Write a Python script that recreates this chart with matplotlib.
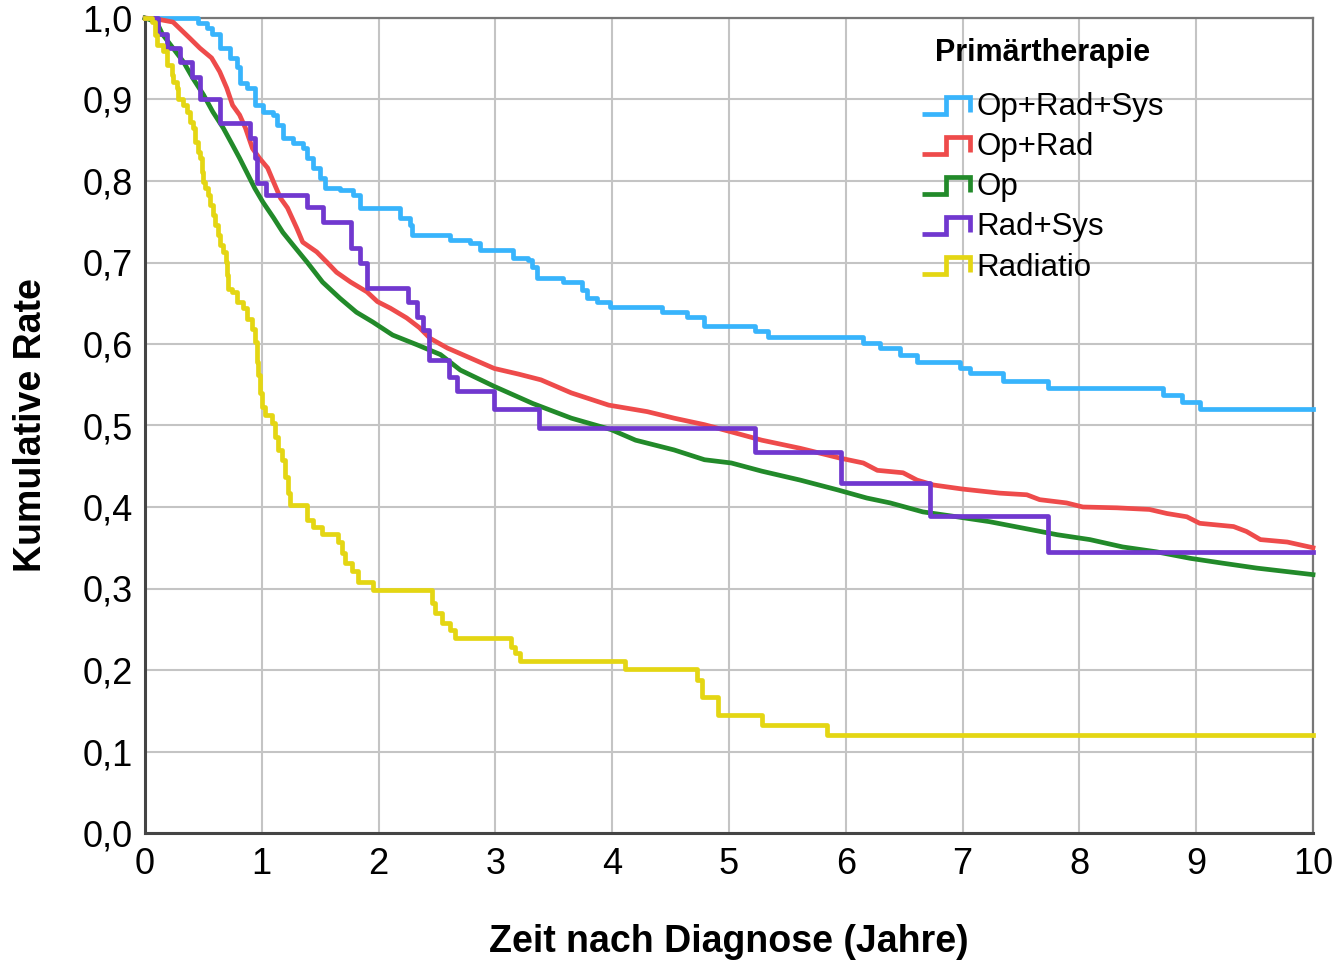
import matplotlib
matplotlib.use("Agg")
import matplotlib.pyplot as plt
from matplotlib.lines import Line2D
from matplotlib.legend_handler import HandlerLine2D
from matplotlib.ticker import FuncFormatter

plt.rcParams['font.family'] = ['Liberation Sans', 'DejaVu Sans']

# Kumulative Rate je Primaertherapie
t_ors = [0, 0.45, 0.53, 0.57, 0.64, 0.73, 0.79, 0.81, 0.87, 0.94, 1.01, 1.10, 1.13, 1.18, 1.27,
         1.35, 1.39, 1.44, 1.50, 1.54, 1.67, 1.78, 1.84, 2.18, 2.27, 2.29, 2.61, 2.78, 2.87, 3.15,
         3.28, 3.31, 3.36, 3.58, 3.74, 3.78, 3.87, 3.98, 4.43, 4.64, 4.79, 5.22, 5.33, 6.15, 6.29,
         6.46, 6.61, 6.98, 7.06, 7.35, 7.73, 8.72, 8.88, 9.03, 10.0]
s_ors = [1.0, 0.994, 0.988, 0.98, 0.963, 0.951, 0.94, 0.92, 0.914, 0.893, 0.885, 0.881, 0.869, 0.853, 0.847,
         0.84, 0.828, 0.816, 0.804, 0.791, 0.789, 0.783, 0.767, 0.755, 0.746, 0.734, 0.727, 0.724, 0.715, 0.705,
         0.703, 0.695, 0.681, 0.676, 0.666, 0.656, 0.652, 0.645, 0.639, 0.633, 0.622, 0.616, 0.609, 0.601, 0.595,
         0.587, 0.578, 0.571, 0.564, 0.555, 0.546, 0.537, 0.529, 0.52, 0.52]

t_or = [0, 0.13, 0.24, 0.385, 0.47, 0.57, 0.64, 0.70, 0.75, 0.81, 0.86, 0.92, 0.98, 1.05, 1.10,
        1.16, 1.22, 1.30, 1.35, 1.47, 1.56, 1.64, 1.76, 1.90, 1.99, 2.10, 2.24, 2.35, 2.44, 2.59,
        2.75, 2.99, 3.20, 3.39, 3.65, 3.97, 4.30, 4.53, 4.79, 5.05, 5.28, 5.61, 5.95, 6.15, 6.27,
        6.49, 6.61, 6.75, 7.00, 7.32, 7.55, 7.66, 7.89, 8.03, 8.32, 8.60, 8.75, 8.92, 9.03, 9.32,
        9.43, 9.55, 9.78, 10.0]
s_or = [1.0, 0.998, 0.995, 0.975, 0.963, 0.951, 0.934, 0.914, 0.893, 0.881, 0.865, 0.84, 0.828, 0.816, 0.799,
        0.779, 0.767, 0.742, 0.725, 0.713, 0.70, 0.688, 0.676, 0.664, 0.652, 0.644, 0.632, 0.62, 0.607, 0.595,
        0.585, 0.570, 0.563, 0.556, 0.540, 0.525, 0.517, 0.509, 0.501, 0.491, 0.482, 0.472, 0.460, 0.454, 0.445,
        0.442, 0.433, 0.427, 0.422, 0.417, 0.415, 0.409, 0.405, 0.400, 0.399, 0.397, 0.392, 0.388, 0.380, 0.376,
        0.370, 0.360, 0.357, 0.350]

t_op = [0, 0.10, 0.15, 0.24, 0.33, 0.41, 0.50, 0.58, 0.67, 0.75, 0.81, 0.87, 0.94, 1.01, 1.10,
        1.18, 1.27, 1.39, 1.52, 1.67, 1.81, 1.95, 2.12, 2.33, 2.53, 2.70, 2.99, 3.32, 3.65, 3.99,
        4.20, 4.53, 4.79, 5.02, 5.28, 5.61, 5.93, 6.18, 6.38, 6.66, 6.95, 7.23, 7.52, 7.81, 8.09,
        8.37, 8.66, 8.95, 9.23, 9.52, 10.0]
s_op = [1.0, 0.995, 0.98, 0.963, 0.946, 0.926, 0.906, 0.885, 0.865, 0.844, 0.828, 0.811, 0.791, 0.774, 0.755,
        0.737, 0.721, 0.70, 0.676, 0.656, 0.639, 0.627, 0.611, 0.599, 0.587, 0.568, 0.548, 0.527, 0.509, 0.495,
        0.482, 0.470, 0.458, 0.454, 0.444, 0.433, 0.421, 0.411, 0.405, 0.394, 0.388, 0.382, 0.374, 0.366, 0.360,
        0.351, 0.345, 0.337, 0.331, 0.325, 0.317]

t_rs = [0, 0.11, 0.19, 0.30, 0.40, 0.47, 0.64, 0.90, 0.94, 0.96, 1.04, 1.39, 1.52, 1.76, 1.84,
        1.90, 2.25, 2.33, 2.38, 2.43, 2.60, 2.67, 2.99, 3.37, 5.22, 5.96, 6.72, 7.73, 10.0]
s_rs = [1.0, 0.98, 0.963, 0.946, 0.928, 0.90, 0.871, 0.853, 0.828, 0.798, 0.783, 0.768, 0.75, 0.718, 0.70,
        0.669, 0.652, 0.633, 0.617, 0.58, 0.56, 0.542, 0.52, 0.497, 0.467, 0.43, 0.389, 0.345, 0.345]

t_rad = [0, 0.057, 0.086, 0.10, 0.157, 0.186, 0.228, 0.243, 0.271, 0.285, 0.328, 0.357, 0.385, 0.414, 0.428,
         0.457, 0.471, 0.485, 0.50, 0.514, 0.542, 0.557, 0.585, 0.599, 0.628, 0.642, 0.670, 0.693, 0.705, 0.713,
         0.742, 0.785, 0.842, 0.871, 0.913, 0.942, 0.956, 0.970, 0.985, 0.999, 1.027, 1.085, 1.113, 1.142, 1.170,
         1.199, 1.227, 1.241, 1.384, 1.441, 1.513, 1.655, 1.684, 1.712, 1.770, 1.826, 1.955, 2.46, 2.48, 2.54,
         2.61, 2.65, 3.13, 3.17, 3.21, 4.11, 4.73, 4.77, 4.91, 5.28, 5.84, 10.0]
s_rad = [1.0, 0.995, 0.979, 0.967, 0.959, 0.942, 0.930, 0.922, 0.914, 0.901, 0.893, 0.885, 0.873, 0.865, 0.848,
         0.836, 0.828, 0.811, 0.799, 0.791, 0.783, 0.771, 0.758, 0.746, 0.734, 0.721, 0.713, 0.701, 0.685, 0.668,
         0.664, 0.652, 0.644, 0.631, 0.619, 0.603, 0.578, 0.562, 0.540, 0.523, 0.513, 0.503, 0.486, 0.470, 0.458,
         0.437, 0.417, 0.402, 0.384, 0.376, 0.367, 0.357, 0.343, 0.331, 0.321, 0.308, 0.298, 0.282, 0.27, 0.258,
         0.249, 0.239, 0.228, 0.221, 0.211, 0.201, 0.188, 0.167, 0.145, 0.132, 0.12, 0.12]

labels = ['Op+Rad+Sys', 'Op+Rad', 'Op', 'Rad+Sys', 'Radiatio']
colors = ['#38b4fc', '#ee4b4b', '#228a2a', '#7138cf', '#e4d613']


class StepHandler(HandlerLine2D):
    def create_artists(self, legend, orig_handle, xdescent, ydescent, width, height, fontsize, trans):
        x0, y0 = -xdescent, -ydescent
        xm = x0 + 0.5 * width
        xs = [x0, xm, xm, x0 + width, x0 + width]
        lo, hi = y0 + 0.05 * height, y0 + 0.85 * height
        ys = [lo, lo, hi, hi, lo + 0.1 * height]
        ln = Line2D(xs, ys, color=orig_handle.get_color(), lw=orig_handle.get_linewidth(),
                    solid_joinstyle='miter', solid_capstyle='butt')
        ln.set_transform(trans)
        return [ln]


fig = plt.figure(figsize=(13.35, 9.6), dpi=100)
ax = fig.add_axes([145 / 1335, 127 / 960, 1168 / 1335, 815 / 960])

lw = 3.4
h1, = ax.plot(t_ors, s_ors, drawstyle='steps-post', color=colors[0], lw=lw, clip_on=False, zorder=3)
h2, = ax.plot(t_or, s_or, color=colors[1], lw=lw, clip_on=False, zorder=3)
h3, = ax.plot(t_op, s_op, color=colors[2], lw=lw, clip_on=False, zorder=3)
h4, = ax.plot(t_rs, s_rs, drawstyle='steps-post', color=colors[3], lw=lw, clip_on=False, zorder=3)
h5, = ax.plot(t_rad, s_rad, drawstyle='steps-post', color=colors[4], lw=lw, clip_on=False, zorder=3)
handles = [h1, h2, h3, h4, h5]

ax.set_xlim(0, 10)
ax.set_ylim(0, 1.0)
ax.set_xticks(range(0, 11))
ax.set_yticks([i / 10 for i in range(11)])
ax.yaxis.set_major_formatter(FuncFormatter(lambda v, p: f"{v:.1f}".replace('.', ',')))
ax.tick_params(length=0, labelsize=26, colors='black')
ax.tick_params(axis='y', pad=9)
ax.tick_params(axis='x', pad=10)
ax.grid(True, color='#c4c4c4', lw=1.5)
ax.set_axisbelow(True)
for side in ['left', 'bottom']:
    ax.spines[side].set_color('#444444')
    ax.spines[side].set_linewidth(2.2)
for side in ['top', 'right']:
    ax.spines[side].set_color('#777777')
    ax.spines[side].set_linewidth(1.6)

ax.set_xlabel('Zeit nach Diagnose (Jahre)', fontsize=27, fontweight='bold', labelpad=30)
ax.set_ylabel('Kumulative Rate', fontsize=27, fontweight='bold', labelpad=24)

fig.text(1043 / 1335, 1 - 53 / 960, 'Primärtherapie', fontsize=22, fontweight='bold',
         ha='center', va='center')
leg = ax.legend(handles, labels, loc='upper left',
                bbox_to_anchor=(909 / 1335, 1 - 80 / 960), bbox_transform=fig.transFigure,
                frameon=False, fontsize=22.5,
                handlelength=1.55, handletextpad=0.2, labelspacing=0.32, borderaxespad=0,
                handler_map={Line2D: StepHandler()})

plt.savefig('out.png', dpi=100)
